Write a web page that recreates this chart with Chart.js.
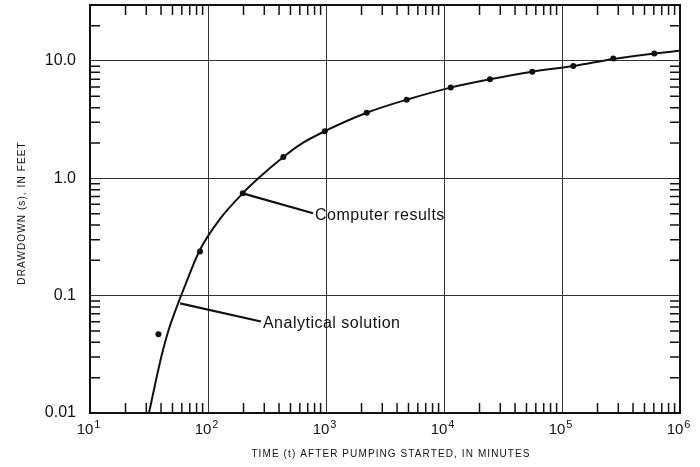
<!DOCTYPE html>
<html><head><meta charset="utf-8">
<script src="https://cdn.jsdelivr.net/npm/chart.js@4"></script>
<style>html,body{margin:0;padding:0;background:#fff}canvas{display:block}</style>
</head><body>
<canvas id="c" width="700" height="467"></canvas>
<script>
// ---- data ----
const computerTimes    = [38, 85.5, 197, 435, 977, 2213, 4830, 11400, 24500, 56000, 124700, 272000, 606000];
const computerDrawdown = [0.047, 0.238, 0.745, 1.52, 2.52, 3.62, 4.68, 5.93, 6.98, 8.11, 9.06, 10.5, 11.6];

const analyticalTimes    = [31.6, 35.6, 40.5, 46.1, 54.3, 61.8, 85.5, 126, 197, 267, 435, 603, 977, 2213, 4830, 11400, 24500, 56000, 124700, 272000, 606000, 1000000];
const analyticalDrawdown = [0.01, 0.0175, 0.031, 0.050, 0.080, 0.112, 0.246, 0.449, 0.745, 1.0, 1.52, 1.94, 2.52, 3.62, 4.68, 5.93, 6.98, 8.11, 9.06, 10.4, 11.6, 12.2];

const xTickValues    = [10, 100, 1000, 10000, 100000, 1000000];
const xTickBase      = '10';
const xTickExponents = ['1', '2', '3', '4', '5', '6'];
const yTickValues    = [0.01, 0.1, 1, 10];
const yTickLabels    = ['0.01', '0.1', '1.0', '10.0'];

const xTitle = 'TIME (t) AFTER PUMPING STARTED, IN MINUTES';
const yTitle = 'DRAWDOWN (s), IN FEET';

const calloutTexts = ['Computer results', 'Analytical solution'];
const calloutFrom  = [[197, 0.745], [58, 0.086]];
const calloutTo    = [[776, 0.504], [281, 0.0602]];

const FONT = '"Liberation Sans", Arial, Helvetica, sans-serif';
const INK = '#111';

const decor = {
  id: 'decor',
  afterDraw(chart) {
    const { ctx, chartArea: a, scales: { x, y } } = chart;
    ctx.save();
    // minor tick marks, inside on all four sides
    ctx.strokeStyle = INK;
    ctx.lineWidth = 1.5;
    const L = 10;
    for (let k = 1; k < 6; k++) {
      for (let m = 2; m < 10; m++) {
        const px = x.getPixelForValue(m * Math.pow(10, k));
        ctx.beginPath();
        ctx.moveTo(px, a.bottom); ctx.lineTo(px, a.bottom - L);
        ctx.moveTo(px, a.top); ctx.lineTo(px, a.top + L);
        ctx.stroke();
      }
    }
    for (let k = -2; k < 2; k++) {
      for (let m = 2; m < 10; m++) {
        const v = m * Math.pow(10, k);
        if (v >= y.max) continue;
        const py = y.getPixelForValue(v);
        ctx.beginPath();
        ctx.moveTo(a.left, py); ctx.lineTo(a.left + L, py);
        ctx.moveTo(a.right, py); ctx.lineTo(a.right - L, py);
        ctx.stroke();
      }
    }
    // frame
    ctx.lineWidth = 2;
    ctx.strokeRect(a.left, a.top, a.right - a.left, a.bottom - a.top);

    // x tick labels: 10 with superscript exponent
    ctx.fillStyle = INK;
    xTickValues.forEach((v, i) => {
      const px = x.getPixelForValue(v) - 5;
      ctx.font = '15px ' + FONT;
      const w = ctx.measureText(xTickBase).width;
      ctx.textAlign = 'center';
      ctx.textBaseline = 'alphabetic';
      ctx.fillText(xTickBase, px, a.bottom + 21);
      ctx.font = '11px ' + FONT;
      ctx.textAlign = 'left';
      ctx.fillText(xTickExponents[i], px + w / 2 + 1, a.bottom + 15);
    });

    // axis titles
    ctx.font = '10px ' + FONT;
    ctx.letterSpacing = '1.1px';
    ctx.textAlign = 'center';
    ctx.textBaseline = 'alphabetic';
    ctx.fillText(xTitle, (a.left + a.right) / 2 + 6, a.bottom + 44);
    ctx.save();
    ctx.translate(25, 213);
    ctx.rotate(-Math.PI / 2);
    ctx.fillText(yTitle, 0, 0);
    ctx.restore();

    // callouts
    ctx.letterSpacing = '0.5px';
    ctx.font = '16px ' + FONT;
    ctx.textAlign = 'left';
    ctx.lineWidth = 2.2;
    calloutTexts.forEach((t, i) => {
      const x1 = x.getPixelForValue(calloutFrom[i][0]), y1 = y.getPixelForValue(calloutFrom[i][1]);
      const x2 = x.getPixelForValue(calloutTo[i][0]),   y2 = y.getPixelForValue(calloutTo[i][1]);
      ctx.beginPath(); ctx.moveTo(x1, y1); ctx.lineTo(x2, y2); ctx.stroke();
      ctx.fillText(t, x2 + 2, y2 + 6.5);
    });
    ctx.restore();
  }
};

new Chart(document.getElementById('c'), {
  type: 'scatter',
  data: {
    datasets: [
      {
        label: 'Analytical solution',
        data: analyticalTimes.map((t, i) => ({ x: t, y: analyticalDrawdown[i] })),
        showLine: true,
        pointRadius: 0,
        borderColor: INK,
        borderWidth: 2,
        cubicInterpolationMode: 'monotone',
        fill: false
      },
      {
        label: 'Computer results',
        data: computerTimes.map((t, i) => ({ x: t, y: computerDrawdown[i] })),
        showLine: false,
        pointRadius: 3,
        pointBackgroundColor: INK,
        pointBorderWidth: 0
      }
    ]
  },
  options: {
    responsive: false,
    animation: false,
    devicePixelRatio: 1,
    layout: { padding: { left: 0, right: 20, top: 5, bottom: 0 } },
    plugins: { legend: { display: false }, tooltip: { enabled: false } },
    scales: {
      x: {
        type: 'logarithmic',
        min: 10, max: 1000000,
        afterBuildTicks: s => { s.ticks = xTickValues.map(v => ({ value: v })); },
        afterFit: s => { s.height = 54; s.paddingLeft = 0; s.paddingRight = 0; },
        grid: { color: '#333', lineWidth: 1, drawTicks: false },
        border: { display: false },
        ticks: { display: false }
      },
      y: {
        type: 'logarithmic',
        min: 0.01, max: 30,
        afterBuildTicks: s => { s.ticks = yTickValues.map(v => ({ value: v })); },
        afterFit: s => { s.width = 90; s.paddingTop = 0; s.paddingBottom = 0; },
        grid: { color: '#333', lineWidth: 1, drawTicks: false },
        border: { display: false },
        ticks: {
          autoSkip: false,
          padding: 14,
          color: INK,
          font: { family: FONT, size: 16 },
          callback: (v, i) => yTickLabels[i]
        }
      }
    }
  },
  plugins: [decor]
});
</script>
</body></html>
